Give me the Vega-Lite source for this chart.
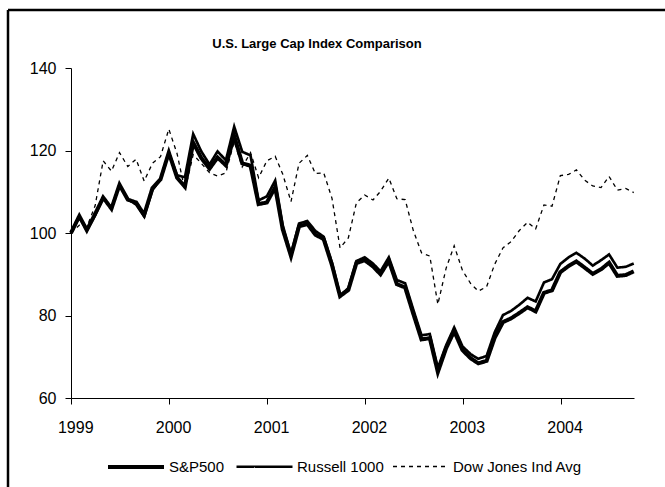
{
"$schema": "https://vega.github.io/schema/vega-lite/v6.json",
"width": 670, "height": 490,
"autosize": {"type": "none"},
"padding": {"left": 8, "top": 10, "right": -13, "bottom": -13},
"background": "white",
"title": {"text": "U.S. Large Cap Index Comparison", "font": "Liberation Sans", "fontSize": 13, "fontWeight": "bold", "color": "black", "anchor": "middle", "offset": -41, "dx": -26},
"data": {"values": [
{"date":"1998-12-31","series":"S&P500","value":100},
{"date":"1999-01-31","series":"S&P500","value":104.1},
{"date":"1999-02-28","series":"S&P500","value":100.7},
{"date":"1999-03-31","series":"S&P500","value":104.6},
{"date":"1999-04-30","series":"S&P500","value":108.6},
{"date":"1999-05-31","series":"S&P500","value":105.9},
{"date":"1999-06-30","series":"S&P500","value":111.7},
{"date":"1999-07-31","series":"S&P500","value":108.1},
{"date":"1999-08-31","series":"S&P500","value":107.4},
{"date":"1999-09-30","series":"S&P500","value":104.4},
{"date":"1999-10-31","series":"S&P500","value":110.9},
{"date":"1999-11-30","series":"S&P500","value":113.0},
{"date":"1999-12-31","series":"S&P500","value":119.5},
{"date":"2000-01-31","series":"S&P500","value":113.4},
{"date":"2000-02-29","series":"S&P500","value":111.2},
{"date":"2000-03-31","series":"S&P500","value":121.9},
{"date":"2000-04-30","series":"S&P500","value":118.2},
{"date":"2000-05-31","series":"S&P500","value":115.6},
{"date":"2000-06-30","series":"S&P500","value":118.3},
{"date":"2000-07-31","series":"S&P500","value":116.4},
{"date":"2000-08-31","series":"S&P500","value":123.5},
{"date":"2000-09-30","series":"S&P500","value":116.9},
{"date":"2000-10-31","series":"S&P500","value":116.3},
{"date":"2000-11-30","series":"S&P500","value":107.0},
{"date":"2000-12-31","series":"S&P500","value":107.4},
{"date":"2001-01-31","series":"S&P500","value":111.1},
{"date":"2001-02-28","series":"S&P500","value":100.9},
{"date":"2001-03-31","series":"S&P500","value":94.4},
{"date":"2001-04-30","series":"S&P500","value":101.6},
{"date":"2001-05-31","series":"S&P500","value":102.2},
{"date":"2001-06-30","series":"S&P500","value":99.6},
{"date":"2001-07-31","series":"S&P500","value":98.5},
{"date":"2001-08-31","series":"S&P500","value":92.2},
{"date":"2001-09-30","series":"S&P500","value":84.7},
{"date":"2001-10-31","series":"S&P500","value":86.2},
{"date":"2001-11-30","series":"S&P500","value":92.7},
{"date":"2001-12-31","series":"S&P500","value":93.4},
{"date":"2002-01-31","series":"S&P500","value":91.9},
{"date":"2002-02-28","series":"S&P500","value":90.0},
{"date":"2002-03-31","series":"S&P500","value":93.3},
{"date":"2002-04-30","series":"S&P500","value":87.6},
{"date":"2002-05-31","series":"S&P500","value":86.8},
{"date":"2002-06-30","series":"S&P500","value":80.5},
{"date":"2002-07-31","series":"S&P500","value":74.2},
{"date":"2002-08-31","series":"S&P500","value":74.5},
{"date":"2002-09-30","series":"S&P500","value":66.3},
{"date":"2002-10-31","series":"S&P500","value":72.1},
{"date":"2002-11-30","series":"S&P500","value":76.2},
{"date":"2002-12-31","series":"S&P500","value":71.6},
{"date":"2003-01-31","series":"S&P500","value":69.6},
{"date":"2003-02-28","series":"S&P500","value":68.4},
{"date":"2003-03-31","series":"S&P500","value":69.0},
{"date":"2003-04-30","series":"S&P500","value":74.6},
{"date":"2003-05-31","series":"S&P500","value":78.4},
{"date":"2003-06-30","series":"S&P500","value":79.3},
{"date":"2003-07-31","series":"S&P500","value":80.6},
{"date":"2003-08-31","series":"S&P500","value":82.0},
{"date":"2003-09-30","series":"S&P500","value":81.0},
{"date":"2003-10-31","series":"S&P500","value":85.5},
{"date":"2003-11-30","series":"S&P500","value":86.1},
{"date":"2003-12-31","series":"S&P500","value":90.5},
{"date":"2004-01-31","series":"S&P500","value":92.0},
{"date":"2004-02-29","series":"S&P500","value":93.1},
{"date":"2004-03-31","series":"S&P500","value":91.6},
{"date":"2004-04-30","series":"S&P500","value":90.1},
{"date":"2004-05-31","series":"S&P500","value":91.2},
{"date":"2004-06-30","series":"S&P500","value":92.8},
{"date":"2004-07-31","series":"S&P500","value":89.6},
{"date":"2004-08-31","series":"S&P500","value":89.8},
{"date":"2004-09-30","series":"S&P500","value":90.7},
{"date":"1998-12-31","series":"Russell 1000","value":100},
{"date":"1999-01-31","series":"Russell 1000","value":103.9},
{"date":"1999-02-28","series":"Russell 1000","value":100.6},
{"date":"1999-03-31","series":"Russell 1000","value":104.3},
{"date":"1999-04-30","series":"Russell 1000","value":108.5},
{"date":"1999-05-31","series":"Russell 1000","value":106.1},
{"date":"1999-06-30","series":"Russell 1000","value":111.6},
{"date":"1999-07-31","series":"Russell 1000","value":108.2},
{"date":"1999-08-31","series":"Russell 1000","value":106.9},
{"date":"1999-09-30","series":"Russell 1000","value":104.0},
{"date":"1999-10-31","series":"Russell 1000","value":110.4},
{"date":"1999-11-30","series":"Russell 1000","value":113.0},
{"date":"1999-12-31","series":"Russell 1000","value":119.5},
{"date":"2000-01-31","series":"Russell 1000","value":114.0},
{"date":"2000-02-29","series":"Russell 1000","value":113.5},
{"date":"2000-03-31","series":"Russell 1000","value":124.0},
{"date":"2000-04-30","series":"Russell 1000","value":119.8},
{"date":"2000-05-31","series":"Russell 1000","value":116.6},
{"date":"2000-06-30","series":"Russell 1000","value":119.8},
{"date":"2000-07-31","series":"Russell 1000","value":117.6},
{"date":"2000-08-31","series":"Russell 1000","value":125.8},
{"date":"2000-09-30","series":"Russell 1000","value":119.7},
{"date":"2000-10-31","series":"Russell 1000","value":118.8},
{"date":"2000-11-30","series":"Russell 1000","value":107.9},
{"date":"2000-12-31","series":"Russell 1000","value":108.9},
{"date":"2001-01-31","series":"Russell 1000","value":112.7},
{"date":"2001-02-28","series":"Russell 1000","value":101.9},
{"date":"2001-03-31","series":"Russell 1000","value":94.9},
{"date":"2001-04-30","series":"Russell 1000","value":102.3},
{"date":"2001-05-31","series":"Russell 1000","value":102.9},
{"date":"2001-06-30","series":"Russell 1000","value":100.5},
{"date":"2001-07-31","series":"Russell 1000","value":99.1},
{"date":"2001-08-31","series":"Russell 1000","value":92.8},
{"date":"2001-09-30","series":"Russell 1000","value":84.9},
{"date":"2001-10-31","series":"Russell 1000","value":86.6},
{"date":"2001-11-30","series":"Russell 1000","value":93.2},
{"date":"2001-12-31","series":"Russell 1000","value":94.1},
{"date":"2002-01-31","series":"Russell 1000","value":92.6},
{"date":"2002-02-28","series":"Russell 1000","value":90.7},
{"date":"2002-03-31","series":"Russell 1000","value":94.1},
{"date":"2002-04-30","series":"Russell 1000","value":88.6},
{"date":"2002-05-31","series":"Russell 1000","value":87.8},
{"date":"2002-06-30","series":"Russell 1000","value":81.5},
{"date":"2002-07-31","series":"Russell 1000","value":75.2},
{"date":"2002-08-31","series":"Russell 1000","value":75.5},
{"date":"2002-09-30","series":"Russell 1000","value":67.3},
{"date":"2002-10-31","series":"Russell 1000","value":72.8},
{"date":"2002-11-30","series":"Russell 1000","value":77.1},
{"date":"2002-12-31","series":"Russell 1000","value":72.5},
{"date":"2003-01-31","series":"Russell 1000","value":70.6},
{"date":"2003-02-28","series":"Russell 1000","value":69.5},
{"date":"2003-03-31","series":"Russell 1000","value":70.2},
{"date":"2003-04-30","series":"Russell 1000","value":75.9},
{"date":"2003-05-31","series":"Russell 1000","value":80.1},
{"date":"2003-06-30","series":"Russell 1000","value":81.1},
{"date":"2003-07-31","series":"Russell 1000","value":82.6},
{"date":"2003-08-31","series":"Russell 1000","value":84.3},
{"date":"2003-09-30","series":"Russell 1000","value":83.4},
{"date":"2003-10-31","series":"Russell 1000","value":88.0},
{"date":"2003-11-30","series":"Russell 1000","value":88.8},
{"date":"2003-12-31","series":"Russell 1000","value":92.5},
{"date":"2004-01-31","series":"Russell 1000","value":94.1},
{"date":"2004-02-29","series":"Russell 1000","value":95.2},
{"date":"2004-03-31","series":"Russell 1000","value":93.8},
{"date":"2004-04-30","series":"Russell 1000","value":92.1},
{"date":"2004-05-31","series":"Russell 1000","value":93.4},
{"date":"2004-06-30","series":"Russell 1000","value":94.8},
{"date":"2004-07-31","series":"Russell 1000","value":91.6},
{"date":"2004-08-31","series":"Russell 1000","value":91.8},
{"date":"2004-09-30","series":"Russell 1000","value":92.6},
{"date":"1998-12-31","series":"Dow Jones Ind Avg","value":100},
{"date":"1999-01-31","series":"Dow Jones Ind Avg","value":101.9},
{"date":"1999-02-28","series":"Dow Jones Ind Avg","value":101.4},
{"date":"1999-03-31","series":"Dow Jones Ind Avg","value":106.6},
{"date":"1999-04-30","series":"Dow Jones Ind Avg","value":117.5},
{"date":"1999-05-31","series":"Dow Jones Ind Avg","value":115.0},
{"date":"1999-06-30","series":"Dow Jones Ind Avg","value":119.5},
{"date":"1999-07-31","series":"Dow Jones Ind Avg","value":116.1},
{"date":"1999-08-31","series":"Dow Jones Ind Avg","value":117.9},
{"date":"1999-09-30","series":"Dow Jones Ind Avg","value":112.6},
{"date":"1999-10-31","series":"Dow Jones Ind Avg","value":116.9},
{"date":"1999-11-30","series":"Dow Jones Ind Avg","value":118.5},
{"date":"1999-12-31","series":"Dow Jones Ind Avg","value":125.2},
{"date":"2000-01-31","series":"Dow Jones Ind Avg","value":119.2},
{"date":"2000-02-29","series":"Dow Jones Ind Avg","value":110.3},
{"date":"2000-03-31","series":"Dow Jones Ind Avg","value":119.0},
{"date":"2000-04-30","series":"Dow Jones Ind Avg","value":116.9},
{"date":"2000-05-31","series":"Dow Jones Ind Avg","value":114.6},
{"date":"2000-06-30","series":"Dow Jones Ind Avg","value":113.8},
{"date":"2000-07-31","series":"Dow Jones Ind Avg","value":114.6},
{"date":"2000-08-31","series":"Dow Jones Ind Avg","value":122.2},
{"date":"2000-09-30","series":"Dow Jones Ind Avg","value":116.0},
{"date":"2000-10-31","series":"Dow Jones Ind Avg","value":119.5},
{"date":"2000-11-30","series":"Dow Jones Ind Avg","value":113.4},
{"date":"2000-12-31","series":"Dow Jones Ind Avg","value":117.5},
{"date":"2001-01-31","series":"Dow Jones Ind Avg","value":118.6},
{"date":"2001-02-28","series":"Dow Jones Ind Avg","value":114.3},
{"date":"2001-03-31","series":"Dow Jones Ind Avg","value":107.6},
{"date":"2001-04-30","series":"Dow Jones Ind Avg","value":116.9},
{"date":"2001-05-31","series":"Dow Jones Ind Avg","value":118.8},
{"date":"2001-06-30","series":"Dow Jones Ind Avg","value":114.4},
{"date":"2001-07-31","series":"Dow Jones Ind Avg","value":114.6},
{"date":"2001-08-31","series":"Dow Jones Ind Avg","value":108.4},
{"date":"2001-09-30","series":"Dow Jones Ind Avg","value":96.4},
{"date":"2001-10-31","series":"Dow Jones Ind Avg","value":98.8},
{"date":"2001-11-30","series":"Dow Jones Ind Avg","value":107.3},
{"date":"2001-12-31","series":"Dow Jones Ind Avg","value":109.2},
{"date":"2002-01-31","series":"Dow Jones Ind Avg","value":108.0},
{"date":"2002-02-28","series":"Dow Jones Ind Avg","value":110.1},
{"date":"2002-03-31","series":"Dow Jones Ind Avg","value":113.3},
{"date":"2002-04-30","series":"Dow Jones Ind Avg","value":108.3},
{"date":"2002-05-31","series":"Dow Jones Ind Avg","value":108.1},
{"date":"2002-06-30","series":"Dow Jones Ind Avg","value":100.7},
{"date":"2002-07-31","series":"Dow Jones Ind Avg","value":95.2},
{"date":"2002-08-31","series":"Dow Jones Ind Avg","value":94.4},
{"date":"2002-09-30","series":"Dow Jones Ind Avg","value":82.7},
{"date":"2002-10-31","series":"Dow Jones Ind Avg","value":91.5},
{"date":"2002-11-30","series":"Dow Jones Ind Avg","value":96.9},
{"date":"2002-12-31","series":"Dow Jones Ind Avg","value":90.9},
{"date":"2003-01-31","series":"Dow Jones Ind Avg","value":87.7},
{"date":"2003-02-28","series":"Dow Jones Ind Avg","value":85.9},
{"date":"2003-03-31","series":"Dow Jones Ind Avg","value":87.0},
{"date":"2003-04-30","series":"Dow Jones Ind Avg","value":92.4},
{"date":"2003-05-31","series":"Dow Jones Ind Avg","value":96.4},
{"date":"2003-06-30","series":"Dow Jones Ind Avg","value":97.9},
{"date":"2003-07-31","series":"Dow Jones Ind Avg","value":100.6},
{"date":"2003-08-31","series":"Dow Jones Ind Avg","value":102.6},
{"date":"2003-09-30","series":"Dow Jones Ind Avg","value":101.0},
{"date":"2003-10-31","series":"Dow Jones Ind Avg","value":106.8},
{"date":"2003-11-30","series":"Dow Jones Ind Avg","value":106.5},
{"date":"2003-12-31","series":"Dow Jones Ind Avg","value":113.9},
{"date":"2004-01-31","series":"Dow Jones Ind Avg","value":114.2},
{"date":"2004-02-29","series":"Dow Jones Ind Avg","value":115.3},
{"date":"2004-03-31","series":"Dow Jones Ind Avg","value":112.8},
{"date":"2004-04-30","series":"Dow Jones Ind Avg","value":111.4},
{"date":"2004-05-31","series":"Dow Jones Ind Avg","value":111.0},
{"date":"2004-06-30","series":"Dow Jones Ind Avg","value":113.7},
{"date":"2004-07-31","series":"Dow Jones Ind Avg","value":110.4},
{"date":"2004-08-31","series":"Dow Jones Ind Avg","value":110.8},
{"date":"2004-09-30","series":"Dow Jones Ind Avg","value":109.8}
]},
"mark": {"type": "line", "color": "black", "strokeCap": "butt", "clip": false},
"encoding": {
  "x": {"field": "date", "type": "temporal",
        "scale": {"type": "utc", "range": [63, 626], "domain": [{"year": 1998, "month": 12, "date": 31, "utc": true}, {"year": 2004, "month": 10, "date": 1, "utc": true}]},
        "axis": {"title": null, "format": "%Y", "grid": false, "offset": -102,
                 "values": [{"year": 1999, "month": 1, "date": 1, "utc": true}, {"year": 2000, "month": 1, "date": 1, "utc": true}, {"year": 2001, "month": 1, "date": 1, "utc": true}, {"year": 2002, "month": 1, "date": 1, "utc": true}, {"year": 2003, "month": 1, "date": 1, "utc": true}, {"year": 2004, "month": 1, "date": 1, "utc": true}],
                 "tickSize": 6, "labelPadding": 15, "labelOffset": 4, "labelFlush": false, "labelOverlap": false}},
  "y": {"field": "value", "type": "quantitative",
        "scale": {"domain": [60, 140], "range": [388, 58], "nice": false, "zero": false},
        "axis": {"title": null, "grid": false, "offset": -63, "values": [60, 80, 100, 120, 140], "tickSize": 6, "labelPadding": 9}},
  "strokeWidth": {"field": "series", "type": "nominal",
        "scale": {"domain": ["S&P500", "Russell 1000", "Dow Jones Ind Avg"], "range": [4, 1.3, 2.2]},
        "legend": {"title": null, "orient": "none", "legendX": 98, "legendY": 427, "direction": "horizontal", "symbolType": "stroke", "symbolSize": 3136, "symbolStrokeColor": "black", "columnPadding": 6, "labelOffset": 3, "padding": 0}},
  "strokeDash": {"field": "series", "type": "nominal",
        "scale": {"domain": ["S&P500", "Russell 1000", "Dow Jones Ind Avg"], "range": [[1, 0], [1, 0], [4, 4]]},
        "legend": {"title": null, "orient": "none", "legendX": 98, "legendY": 427, "direction": "horizontal", "symbolType": "stroke", "symbolSize": 3136, "symbolStrokeColor": "black", "columnPadding": 6, "labelOffset": 3, "padding": 0}},
  "detail": {"field": "series"}
},
"config": {
  "view": {"stroke": "black", "strokeWidth": 2.5, "fill": "white", "strokeDash": [670, 1160, 490, 0]},
  "axis": {"domainColor": "black", "tickColor": "black", "labelColor": "black", "labelFont": "Liberation Sans", "labelFontSize": 16, "domainWidth": 1, "tickWidth": 1},
  "legend": {"labelFont": "Liberation Sans", "labelFontSize": 15, "labelColor": "black", "labelLimit": 300}
}
}
